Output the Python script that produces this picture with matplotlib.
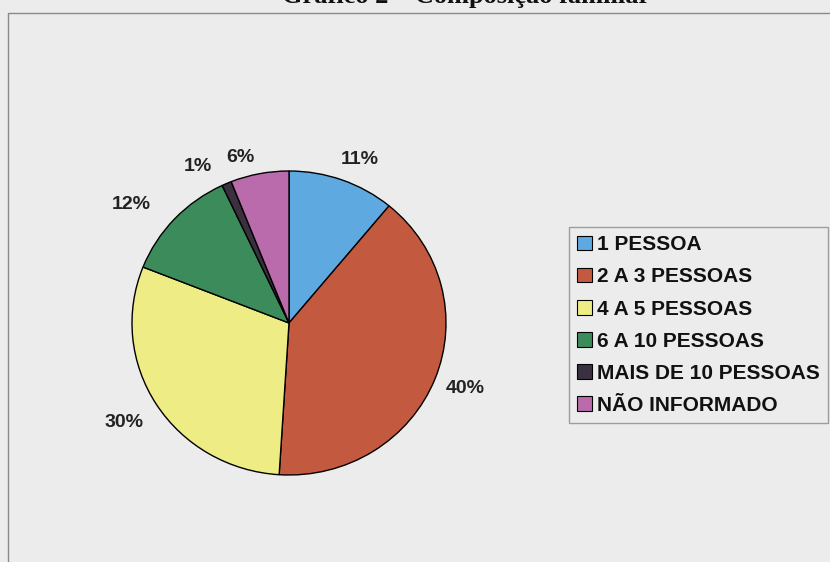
import matplotlib
matplotlib.use("Agg")
import matplotlib.pyplot as plt
from matplotlib.patches import Patch, Rectangle
import numpy as np

categories = ["1 PESSOA", "2 A 3 PESSOAS", "4 A 5 PESSOAS", "6 A 10 PESSOAS",
              "MAIS DE 10 PESSOAS", "NÃO INFORMADO"]
values = [11, 40, 30, 12, 1, 6]
labels = ["11%", "40%", "30%", "12%", "1%", "6%"]
colors = ["#5ea9e0", "#c35a3f", "#eeec84", "#3c8b5a", "#3a3040", "#b96bab"]
title = "Gráfico 2 – Composição familiar"

W, H = 830, 562
bg = "#ececec"
fig = plt.figure(figsize=(W / 100, H / 100), dpi=100, facecolor=bg)

# outer frame
fig.add_artist(Rectangle((8 / W, -0.1), 1.2, 1 - 13 / H + 0.1, transform=fig.transFigure,
                         facecolor="none", edgecolor="#8a8a8a", lw=1.0))

# title (mostly cut off at the top, as in the reference)
fig.text(466 / W, 1 - 2.5 / H, title, ha="center", va="baseline",
         family="Liberation Serif", fontweight="bold", fontsize=19, color="#111111")

cx, cy, rx, ry = 289, 323, 157, 152
ax = fig.add_axes([(cx - rx) / W, (H - cy - ry) / H, 2 * rx / W, 2 * ry / H])
ax.set_facecolor("none")
wedges, _ = ax.pie(values, colors=colors, startangle=90, counterclock=False,
                   wedgeprops=dict(edgecolor="black", linewidth=1.0))
ax.set_xlim(-1, 1)
ax.set_ylim(-1, 1)
ax.set_aspect("auto")
ax.axis("off")

# label placement: radial distance and angular offset per wedge
dist = [1.17, 1.20, 1.24, 1.27, 1.18, 1.13]
doff = [-3, 0.5, -0.5, 5.5, 6, 5]
for w, lab, d, o in zip(wedges, labels, dist, doff):
    ang = np.deg2rad((w.theta1 + w.theta2) / 2 + o)
    ax.text(d * np.cos(ang), d * np.sin(ang), lab, ha="center", va="center",
            family="Liberation Sans", fontweight="bold", fontsize=14, color="#222222")

handles = [Patch(facecolor=c, edgecolor="black", lw=0.8) for c in colors]
leg = fig.legend(handles, categories, loc="upper left",
                 bbox_to_anchor=(569 / W, 1 - 227 / H), frameon=True,
                 prop=dict(family="Liberation Sans", weight="bold", size=15),
                 handlelength=0.7, handleheight=0.7, handletextpad=0.25,
                 labelspacing=0.63, borderpad=0.4, borderaxespad=0,
                 fancybox=False, facecolor=bg, edgecolor="#8a8a8a")
leg.get_frame().set_linewidth(1.0)
for t in leg.get_texts():
    t.set_color("#111111")

fig.savefig("out.png", dpi=100, facecolor=bg)
